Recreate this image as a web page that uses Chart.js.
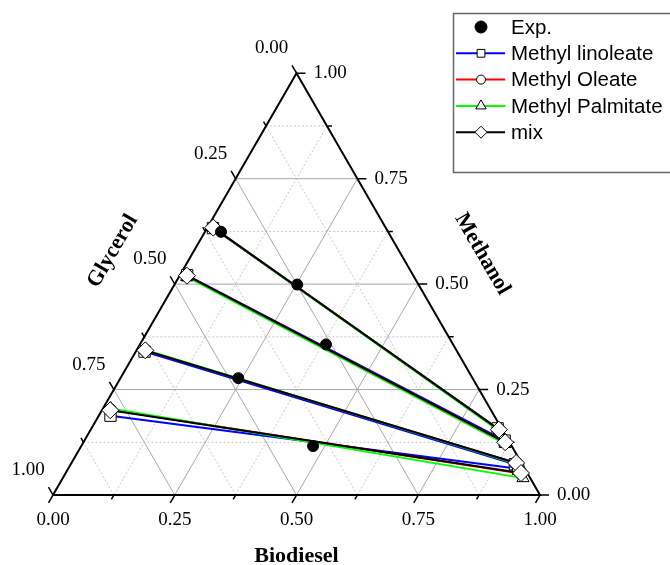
<!DOCTYPE html>
<html>
<head>
<meta charset="utf-8">
<script src="https://cdn.jsdelivr.net/npm/chart.js@4/dist/chart.umd.min.js"></script>
<style>
  html, body { margin: 0; padding: 0; background: #fff; }
</style>
</head>
<body>
<canvas id="tern" width="670" height="565"></canvas>
<script>
// Liquid-liquid equilibrium of biodiesel + methanol + glycerol.
// Every composition is [biodiesel, methanol, glycerol] (mass fraction).
const expPoints = [
    [0.033, 0.624, 0.343],
    [0.252, 0.499, 0.249],
    [0.382, 0.357, 0.261],
    [0.242, 0.277, 0.481],
    [0.476, 0.116, 0.408],
];

// predicted tie lines: glycerol-rich phase -> biodiesel-rich phase
const linoleateGly = [[0.012, 0.633, 0.355], [0.015, 0.521, 0.464], [0.018, 0.340, 0.642], [0.024, 0.188, 0.788]];
const linoleateBio = [[0.834, 0.158, 0.008], [0.863, 0.129, 0.008], [0.912, 0.073, 0.015], [0.924, 0.062, 0.014]];

const oleateGly = [[0.012, 0.634, 0.354], [0.015, 0.520, 0.465], [0.018, 0.343, 0.639], [0.017, 0.202, 0.781]];
const oleateBio = [[0.838, 0.155, 0.007], [0.866, 0.125, 0.009], [0.913, 0.076, 0.011], [0.935, 0.051, 0.014]];

const palmitateGly = [[0.012, 0.634, 0.354], [0.016, 0.517, 0.467], [0.018, 0.344, 0.638], [0.016, 0.205, 0.779]];
const palmitateBio = [[0.840, 0.152, 0.008], [0.868, 0.121, 0.011], [0.915, 0.074, 0.011], [0.945, 0.040, 0.015]];

const mixGly = [[0.012, 0.634, 0.354], [0.015, 0.520, 0.465], [0.018, 0.343, 0.639], [0.017, 0.201, 0.782]];
const mixBio = [[0.838, 0.155, 0.007], [0.866, 0.125, 0.009], [0.913, 0.076, 0.011], [0.935, 0.052, 0.013]];

const tickValues = [0, 0.25, 0.5, 0.75, 1];
const tickLabels = ['0.00', '0.25', '0.50', '0.75', '1.00'];
const minorValues = [0.125, 0.375, 0.625, 0.875];
const majorValues = [0.25, 0.5, 0.75];

const axisTitles = { bottom: 'Biodiesel', left: 'Glycerol', right: 'Methanol' };

const H = Math.sqrt(3) / 2;
const UNIT = 487;              // pixels per unit side
const PX = 1 / UNIT;

// ternary -> cartesian, unit triangle with the methanol apex on top
function toXY(c) {
    return { x: c[0] + c[1] / 2, y: c[1] * H };
}
const GAP = { x: null, y: null };

function tieLines(gly, bio) {
    const out = [];
    gly.forEach((g, i) => { out.push(toXY(g), toXY(bio[i]), GAP); });
    return out;
}

function gridFamily(values) {
    const out = [];
    values.forEach((t) => {
        out.push(toXY([0, t, 1 - t]), toXY([1 - t, t, 0]), GAP);     // methanol
        out.push(toXY([t, 0, 1 - t]), toXY([t, 1 - t, 0]), GAP);     // biodiesel
        out.push(toXY([1 - t, 0, t]), toXY([0, 1 - t, t]), GAP);     // glycerol
    });
    return out;
}

function axisTicks(values, len) {
    const L = len * PX, out = [];
    values.forEach((t) => {
        // bottom (biodiesel): along the biodiesel grid direction, outward
        const b = toXY([t, 0, 1 - t]);
        out.push(b, { x: b.x - 0.5 * L, y: b.y - H * L }, GAP);
        // right (methanol): horizontal, outward
        const r = toXY([1 - t, t, 0]);
        out.push(r, { x: r.x + L, y: r.y }, GAP);
        // left (glycerol): along the glycerol grid direction, outward
        const l = toXY([0, 1 - t, t]);
        out.push(l, { x: l.x - 0.5 * L, y: l.y + H * L }, GAP);
    });
    return out;
}

const frame = [[0, 0, 1], [1, 0, 0], [0, 1, 0], [0, 0, 1]].map(toXY);

const lineSet = (data, color, width, dash, order) => ({
    data, showLine: true, spanGaps: false, borderColor: color, borderWidth: width,
    borderDash: dash, pointRadius: 0, order,
});

const modelSet = (label, gly, bio, color, style, radius, order) => ({
    label, data: tieLines(gly, bio), showLine: true, spanGaps: false,
    borderColor: color, borderWidth: 2,
    pointStyle: style, pointRadius: radius, pointBorderWidth: 1,
    pointBackgroundColor: '#ffffff', pointBorderColor: '#000000', order,
});

const legendItems = [
    { text: 'Exp.', color: null, style: 'circle', r: 6, fill: '#000' },
    { text: 'Methyl linoleate', color: '#0000ff', style: 'rect', r: 5.5, fill: '#fff' },
    { text: 'Methyl Oleate', color: '#ff0000', style: 'circle', r: 4.5, fill: '#fff' },
    { text: 'Methyl Palmitate', color: '#00ff00', style: 'triangle', r: 6, fill: '#fff' },
    { text: 'mix', color: '#000000', style: 'rectRot', r: 6, fill: '#fff' },
];

const ternaryDecor = {
    id: 'ternaryDecor',
    afterDraw(chart) {
        const { ctx, scales: { x, y } } = chart;
        const px = (p) => [x.getPixelForValue(p.x), y.getPixelForValue(p.y)];

        ctx.save();
        ctx.fillStyle = '#000';
        ctx.font = '19px "Liberation Serif", "Times New Roman", serif';
        ctx.textBaseline = 'middle';
        tickValues.forEach((t, i) => {
            const [bx, by] = px(toXY([t, 0, 1 - t]));
            ctx.textAlign = 'center';
            ctx.fillText(tickLabels[i], bx, by + 25);
            const [rx, ry] = px(toXY([1 - t, t, 0]));
            ctx.textAlign = 'left';
            ctx.fillText(tickLabels[i], rx + 17, ry);
            const [lx, ly] = px(toXY([0, 1 - t, t]));
            ctx.textAlign = 'center';
            ctx.fillText(tickLabels[i], lx - 25, ly - 25);
        });

        ctx.font = 'bold 22px "Liberation Serif", "Times New Roman", serif';
        const [cx] = px(toXY([0.5, 0, 0.5]));
        ctx.fillText(axisTitles.bottom, cx, 556);
        const [gx, gy] = px(toXY([0, 0.5, 0.5]));
        ctx.save();
        ctx.translate(gx - 62, gy - 33);
        ctx.rotate(-Math.PI / 3);
        ctx.fillText(axisTitles.left, 0, 0);
        ctx.restore();
        const [mx, my] = px(toXY([0.5, 0.5, 0]));
        ctx.save();
        ctx.translate(mx + 64, my - 30);
        ctx.rotate(Math.PI / 3);
        ctx.fillText(axisTitles.right, 0, 0);
        ctx.restore();

        // legend box
        ctx.strokeStyle = '#666';
        ctx.lineWidth = 1.5;
        ctx.strokeRect(453.5, 13.5, 230, 159);
        ctx.font = '20.5px "Liberation Sans", Arial, sans-serif';
        ctx.textAlign = 'left';
        legendItems.forEach((it, i) => {
            const ly = 27 + i * 26.3;
            if (it.color) {
                ctx.strokeStyle = it.color;
                ctx.lineWidth = 2;
                ctx.beginPath();
                ctx.moveTo(456, ly);
                ctx.lineTo(505, ly);
                ctx.stroke();
            }
            ctx.fillStyle = it.fill;
            ctx.strokeStyle = '#000';
            ctx.lineWidth = 1;
            Chart.helpers.drawPoint(ctx, { pointStyle: it.style, radius: it.r, borderWidth: 1, rotation: 0 }, 481, ly);
            ctx.fillStyle = '#000';
            ctx.fillText(it.text, 511, ly + 1);
        });
        ctx.restore();
    },
};

new Chart(document.getElementById('tern'), {
    type: 'scatter',
    data: {
        datasets: [
            lineSet(gridFamily(minorValues), '#c8c8c8', 1, [2, 2], 20),
            lineSet(gridFamily(majorValues), '#a8a8a8', 1, [], 19),
            lineSet(axisTicks(minorValues, 5), '#000', 1.5, [], 18),
            lineSet(axisTicks(tickValues, 9), '#000', 1.5, [], 18),
            lineSet(frame, '#000', 2, [], 17),
            modelSet('Methyl linoleate', linoleateGly, linoleateBio, '#0000ff', 'rect', 8, 4),
            modelSet('Methyl Oleate', oleateGly, oleateBio, '#ff0000', 'circle', 6, 3),
            modelSet('Methyl Palmitate', palmitateGly, palmitateBio, '#00ff00', 'triangle', 7, 2),
            modelSet('mix', mixGly, mixBio, '#000000', 'rectRot', 8.5, 1),
            {
                label: 'Exp.', data: expPoints.map(toXY), showLine: false,
                pointStyle: 'circle', pointRadius: 5.5, pointBackgroundColor: '#000',
                pointBorderColor: '#000', order: 0,
            },
        ],
    },
    options: {
        responsive: false,
        animation: false,
        events: [],
        layout: { padding: 0, autoPadding: false },
        plugins: { legend: { display: false }, tooltip: { enabled: false } },
        scales: {
            x: { type: 'linear', display: false, min: -53 * PX, max: 617 * PX },
            y: { type: 'linear', display: false, min: -70 * PX, max: 495 * PX },
        },
    },
    plugins: [ternaryDecor],
});
</script>
</body>
</html>
